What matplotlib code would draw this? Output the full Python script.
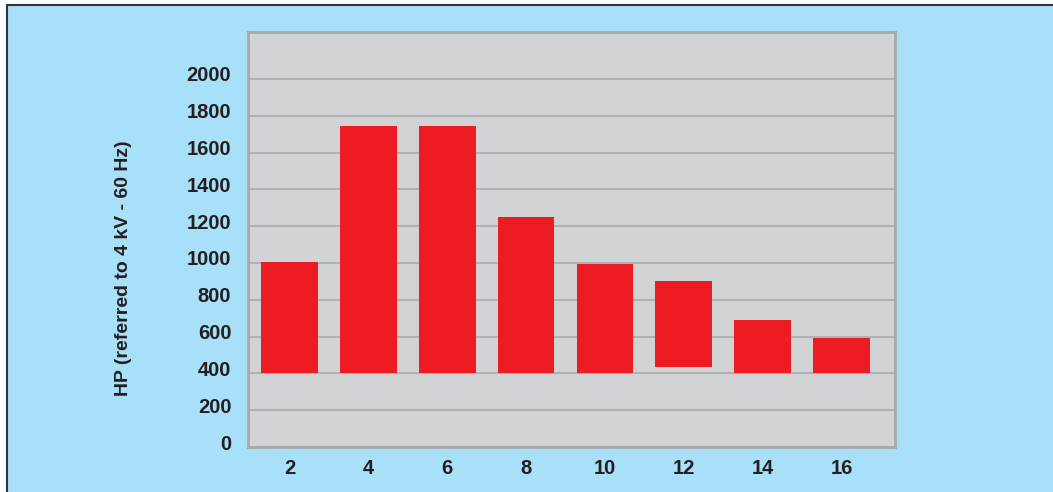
import matplotlib.pyplot as plt
import matplotlib.transforms as mtransforms
from matplotlib.patches import Rectangle

# data
poles = ["2", "4", "6", "8", "10", "12", "14", "16"]
hp_top = [1005, 1745, 1745, 1250, 995, 900, 690, 592]
hp_bottom = [400, 400, 400, 400, 400, 435, 400, 400]
y_ticks = [0, 200, 400, 600, 800, 1000, 1200, 1400, 1600, 1800, 2000]

plt.rcParams["font.family"] = ["Liberation Sans", "DejaVu Sans"]
plt.rcParams["font.weight"] = "bold"

fig = plt.figure(figsize=(10.53, 4.92), dpi=100)
fig.patch.set_facecolor("white")

# light blue panel with a dark frame on top/left (runs off the right/bottom edge)
panel = Rectangle((7 / 1053, -0.1), 1.1, 1.1 - 5 / 492, transform=fig.transFigure,
                  facecolor="#a8dff9", edgecolor="#333333", linewidth=1.5, zorder=-10)
fig.patches.append(panel)

ax = fig.add_axes([248 / 1053, 1 - 447 / 492, (895 - 248) / 1053, (447 - 32) / 492])
ax.set_zorder(1)
ax.set_facecolor("#d1d3d4")

x = list(range(len(poles)))
heights = [t - b for t, b in zip(hp_top, hp_bottom)]
ax.bar(x, heights, bottom=hp_bottom, width=0.72, color="#ed1c24", zorder=3)

ax.set_xlim(-0.526, 7.678)
ax.set_ylim(0, 2255)
ax.set_yticks(y_ticks)
ax.set_xticks(x)
ax.set_xticklabels(poles)
ax.tick_params(axis="both", length=0, labelsize=14.5, colors="#231f20")
ax.tick_params(axis="y", pad=12)
ax.tick_params(axis="x", pad=9)

# labels sit a little above their gridlines
offset = mtransforms.ScaledTranslation(0, 5 / 100, fig.dpi_scale_trans)
for lab in ax.get_yticklabels():
    lab.set_transform(lab.get_transform() + offset)
    lab.set_fontweight("bold")
for lab in ax.get_xticklabels():
    lab.set_fontweight("bold")

ax.grid(axis="y", color="#b1b2b5", linewidth=1.5, zorder=1)
ax.set_axisbelow(True)
for s in ax.spines.values():
    s.set_color("#a7a9ac")
    s.set_linewidth(2)

fig.text(124 / 1053, 1 - 268 / 492, "HP (referred to 4 kV - 60 Hz)", rotation=90,
         ha="center", va="center", fontsize=14, fontweight="bold", color="#231f20")

fig.savefig("out.png", dpi=100)
